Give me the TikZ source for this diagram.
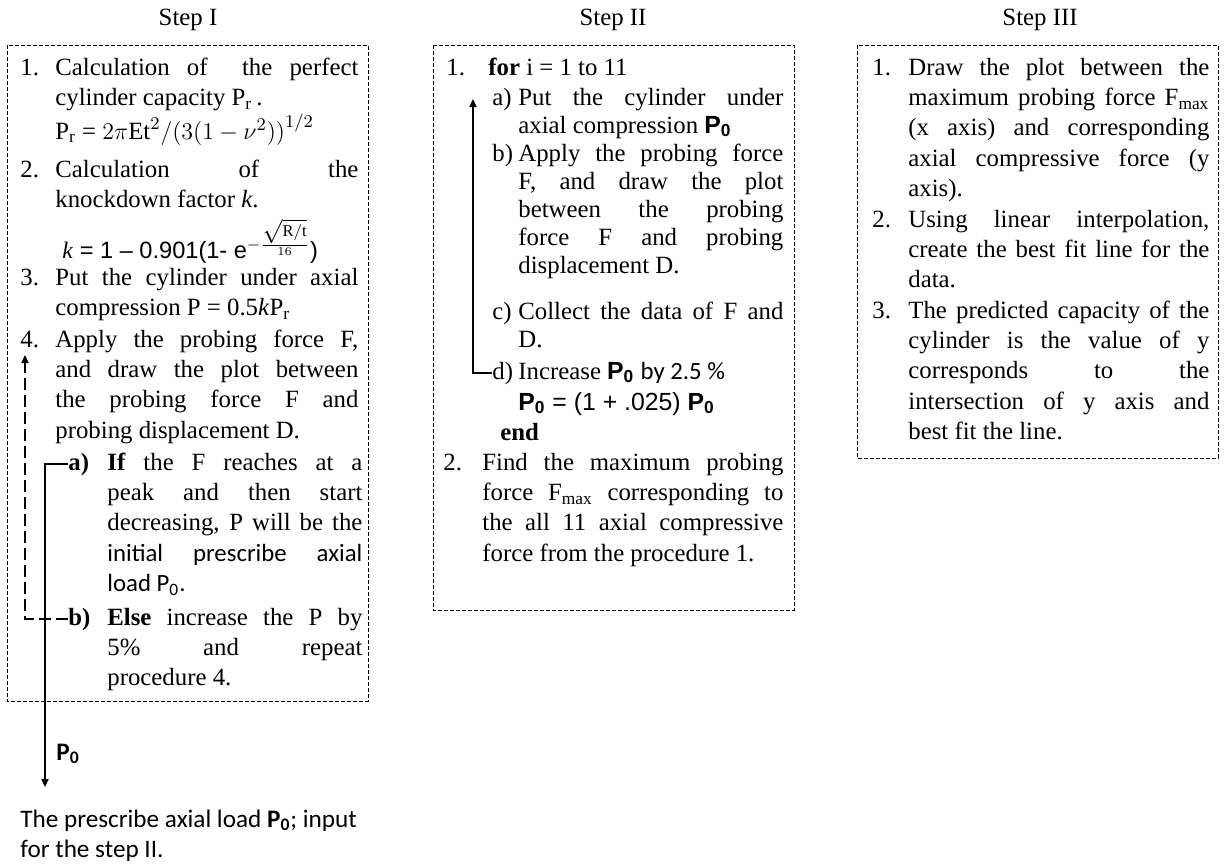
\documentclass[tikz,border=0pt]{standalone}
\usepackage{fontspec}
\setmainfont{Liberation Serif}
\setsansfont{Liberation Sans}
\newfontfamily\calfont{Carlito}
\usetikzlibrary{arrows.meta}
\newcommand{\Psans}{{\sffamily\bfseries P\textsubscript{0}}}
\newcommand{\Pcal}{{\calfont\bfseries P\textsubscript{0}}}

\begin{document}
\begin{tikzpicture}[x=0.5pt,y=-0.5pt,font=\fontsize{12.4pt}{15.2pt}\selectfont,
  stepbox/.style={draw,line width=0.5pt,dash pattern=on 2pt off 1pt},
  lbl/.style={anchor=base west,inner sep=0pt},
  para/.style={anchor=base west,inner sep=0pt,align=justify,text width=#1},
  flow/.style={-{Triangle[length=4pt,width=3.6pt]},line width=0.65pt},
  back/.style={flow,dash pattern=on 6pt off 2.5pt},
  calibri/.style={font=\calfont\fontsize{12.6pt}{15pt}\selectfont}]
\useasboundingbox (0,0) rectangle (1225,864);
\draw[stepbox] (7,45) rectangle (368,701);
\draw[stepbox] (433,45) rectangle (794,610);
\draw[stepbox] (857,45) rectangle (1218,458);
\foreach \x/\t [count=\i] in {188/I,613/II,1040/III}
  \node[anchor=base,inner sep=0pt] (title\i) at (\x,25) {Step \t};
\foreach \y [count=\i] in {75,177,285,347}
  \node[lbl] (s1-n\i) at (20,\y) {\i.};
\node[para=151.5pt] (s1-t1) at (55,75) {Calculation of \ the perfect\linebreak cylinder capacity P\textsubscript{r}\,.};
\node[lbl] (s1-f1) at (55,139) {P\textsubscript{r} = $2\pi\mathrm{Et}^2/\bigl(3(1-\nu^2)\bigr)^{1/2}$};
\node[para=151.5pt] (s1-t2) at (55,177) {Calculation of the\linebreak knockdown factor \textit{k}.};
\node[lbl] (s1-f2) at (62,258) {\sffamily\fontsize{11.8pt}{14pt}\selectfont\textrm{\textit{k}} = 1 \textendash{} 0.901(1- e$^{-\frac{\scriptstyle\sqrt{\mathrm{R/t}}}{16}}$)};
\node[para=151.5pt] (s1-t3) at (55,285) {Put the cylinder under axial\linebreak compression P = 0.5\textit{k}P\textsubscript{r}};
\node[para=151.5pt] (s1-t4) at (55,347) {Apply the probing force F,\linebreak and draw the plot between\linebreak the probing force F and\linebreak probing displacement D.};
\node[lbl] (s1-a) at (68,470) {\textbf{a)}};
\node[para=127.5pt] (s1-ta) at (107,470) {\textbf{If} the F reaches at a\linebreak peak and then start\linebreak decreasing, P will be the\linebreak {\calfont initial prescribe axial}\linebreak {\calfont load P\textsubscript{0}.}};
\node[lbl] (s1-b) at (68,625) {\textbf{b)}};
\node[para=127.5pt] (s1-tb) at (107,625) {\textbf{Else} increase the P by\linebreak 5\% and repeat\linebreak procedure 4.};
\coordinate (s1-back) at (25,355);
\coordinate (s1-out) at (45,787);
\draw[flow] (s1-a.west) -| (s1-out);
\draw[back] (s1-b.west) -| (s1-back);
\node[lbl,calibri] (s1-p0) at (56,760) {\Pcal};
\node[lbl,calibri,align=left] (s1-result) at (20,857) {The prescribe axial load \Pcal; input\\for the step II.};
\node[lbl] (s2-n1) at (446,75) {1.};
\node[lbl] (s2-for) at (488,75) {\textbf{for} i = 1 to 11};
\begin{scope}[font=\fontsize{12.4pt}{14pt}\selectfont]
\foreach \y/\l in {105/a,161/b,319/c,379/d}
  \node[lbl] (s2-\l) at (492,\y) {\l)};
\node[para=132.5pt] (s2-ta) at (518,105) {Put the cylinder under\linebreak axial compression \Psans};
\node[para=132.5pt] (s2-tb) at (518,161) {Apply the probing force\linebreak F, and draw the plot\linebreak between the probing\linebreak force F and probing\linebreak displacement D.};
\node[para=132.5pt] (s2-tc) at (518,319) {Collect the data of F and\linebreak D.};
\node[lbl] (s2-td) at (518,379) {Increase \Psans{} {\calfont by 2.5 \%}};
\node[lbl] (s2-td2) at (518,410) {\sffamily\Psans{} = (1 + .025) \Psans};
\end{scope}
\node[lbl] (s2-end) at (500,440) {\textbf{end}};
\coordinate (s2-loop) at (473,99);
\draw[flow] (s2-d.west) -| (s2-loop);
\node[lbl] (s2-n2) at (443,470) {2.};
\node[para=150.5pt] (s2-t2) at (482,470) {Find the maximum probing\linebreak force F\textsubscript{max} corresponding to\linebreak the all 11 axial compressive\linebreak force from the procedure 1.};
\foreach \y [count=\i] in {75,227,318}
  \node[lbl] (s3-n\i) at (872,\y) {\i.};
\node[para=150.5pt] (s3-t1) at (908,75) {Draw the plot between the\linebreak maximum probing force F\textsubscript{max}\linebreak (x axis) and corresponding\linebreak axial compressive force (y\linebreak axis).};
\node[para=150.5pt] (s3-t2) at (908,227) {Using linear interpolation,\linebreak create the best fit line for the\linebreak data.};
\node[para=150.5pt] (s3-t3) at (908,318) {The predicted capacity of the\linebreak cylinder is the value of y\linebreak corresponds to the\linebreak intersection of y axis and\linebreak best fit the line.};
\end{tikzpicture}
\end{document}
